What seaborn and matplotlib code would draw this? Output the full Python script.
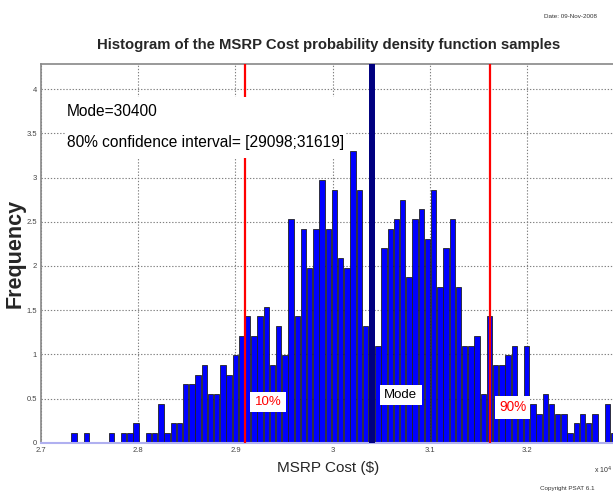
import numpy as np
import pandas as pd
import matplotlib
matplotlib.use("Agg")
import matplotlib.pyplot as plt
from matplotlib.patches import Rectangle
import seaborn as sns

# ---- data (cost in units of 10^4 $) ----
bin_start = 2.7307
bin_width = 0.006385
frequency = [0.11, 0, 0.11, 0, 0, 0, 0.11, 0, 0.11, 0.11,
             0.22, 0, 0.11, 0.11, 0.44, 0.11, 0.22, 0.22, 0.66, 0.66,
             0.77, 0.88, 0.55, 0.55, 0.88, 0.77, 0.99, 1.21, 1.43, 1.21,
             1.43, 1.54, 0.88, 1.32, 0.99, 2.53, 1.43, 2.42, 1.98, 2.42,
             2.97, 2.42, 2.86, 2.09, 1.98, 3.30, 2.86, 1.32, 3.41, 1.10,
             2.20, 2.42, 2.53, 2.75, 1.87, 2.53, 2.64, 2.31, 2.86, 1.76,
             2.20, 2.53, 1.76, 1.10, 1.10, 1.21, 0.55, 1.43, 0.88, 0.88,
             0.99, 1.10, 0.33, 1.10, 0.44, 0.33, 0.55, 0.44, 0.33, 0.33,
             0.11, 0.22, 0.33, 0.22, 0.33, 0, 0.44, 0.11]
mode_value = 3.04
ci_low = 2.9098
ci_high = 3.1619
x_ticks = [2.7, 2.8, 2.9, 3.0, 3.1, 3.2]
x_ticklabels = ["2.7", "2.8", "2.9", "3", "3.1", "3.2"]
y_ticks = [0, 0.5, 1, 1.5, 2, 2.5, 3, 3.5, 4]
y_ticklabels = ["0", "0.5", "1", "1.5", "2", "2.5", "3", "3.5", "4"]

edges = bin_start + bin_width * np.arange(len(frequency) + 1)
centers = edges[:-1] + bin_width / 2
df = pd.DataFrame({"cost": centers, "freq": frequency})

sns.set_style("white")
FONT = ["Liberation Sans", "DejaVu Sans"]
plt.rcParams["font.family"] = FONT

fig = plt.figure(figsize=(6.13, 4.94), dpi=100)
ax = fig.add_axes([41.2 / 613, 1 - 442.7 / 494, 1 - 41.2 / 613, (442.7 - 64) / 494])

sns.histplot(data=df, x="cost", weights="freq", bins=edges.tolist(), shrink=0.85,
             color="#0000ff", edgecolor="#222222", linewidth=0.6, alpha=1,
             ax=ax, zorder=2)

ax.set_xlim(2.7, 2.7 + (613 - 41.2) / 971)
ax.set_ylim(0, 4.286)
ax.set_xticks(x_ticks)
ax.set_xticklabels(x_ticklabels, fontsize=5.5, color="#444444")
ax.set_yticks(y_ticks)
ax.set_yticklabels(y_ticklabels, fontsize=5.5, color="#444444")
ax.tick_params(direction="in", length=4, color="#888888", pad=3)
ax.grid(True, linestyle=(0, (1.2, 1.6)), color="#808080", linewidth=0.8, zorder=0)
ax.set_axisbelow(True)
for s in ["left", "top"]:
    ax.spines[s].set_color("#888888")
    ax.spines[s].set_linewidth(1.2)
ax.spines["right"].set_visible(False)
ax.spines["bottom"].set_color("#b0b0f0")
ax.spines["bottom"].set_linewidth(1.5)
ax.set_xlabel("")
ax.set_ylabel("")

# interval and mode lines
ax.axvline(ci_low, color="#ff0000", lw=1.6, zorder=3)
ax.axvline(ci_high, color="#ff0000", lw=1.6, zorder=3)
ax.axvline(mode_value + 0.0003, color="#000080", lw=4.3, zorder=3)

# info box (white background behind the two text lines)
ax.add_patch(Rectangle((2.7245, 3.2224), 3.0128 - 2.7245, 3.9129 - 3.2224,
                       facecolor="white", edgecolor="none", zorder=4))
ax.text(2.7266, 3.754, "Mode=30400", fontsize=11.2, color="black",
        va="center", ha="left", zorder=5)
ax.text(2.7266, 3.392, "80% confidence interval= [29098;31619]", fontsize=11.2,
        color="black", va="center", ha="left", zorder=5)

ax.text(2.9336, 0.46, "10%", fontsize=9.5, color="#ff0000",
        ha="center", va="center",
        bbox=dict(facecolor="white", edgecolor="none", pad=3), zorder=5)
ax.text(3.0704, 0.54, "Mode", fontsize=9.5, color="black",
        ha="center", va="center",
        bbox=dict(facecolor="white", edgecolor="none", pad=3), zorder=5)
ax.text(3.1854, 0.40, "90%", fontsize=9.8, color="#ff0000",
        ha="center", va="center",
        bbox=dict(facecolor="white", edgecolor="none", pad=3), zorder=5)

# figure texts
fig.text(328.5 / 613, 1 - 45 / 494,
         "Histogram of the MSRP Cost probability density function samples",
         fontsize=10.7, fontweight="bold", ha="center", va="center")
fig.text(328 / 613, 1 - 468 / 494, "MSRP Cost ($)",
         fontsize=11, ha="center", va="center")
fig.text(15.5 / 613, 1 - 253 / 494, "Frequency", fontsize=15.5, fontweight="bold",
         rotation=90, ha="center", va="center")
fig.text(570 / 613, 1 - 17 / 494, "Date: 09-Nov-2008",
         fontsize=4.5, color="#333333", ha="center", va="center")
fig.text(567 / 613, 1 - 488 / 494, "Copyright PSAT 6.1",
         fontsize=4.5, color="#333333", ha="center", va="center")
fig.text(612 / 613, 1 - 470 / 494, "x 10$^4$",
         fontsize=5, color="#333333", ha="right", va="center")

fig.savefig("out.png", dpi=100)
